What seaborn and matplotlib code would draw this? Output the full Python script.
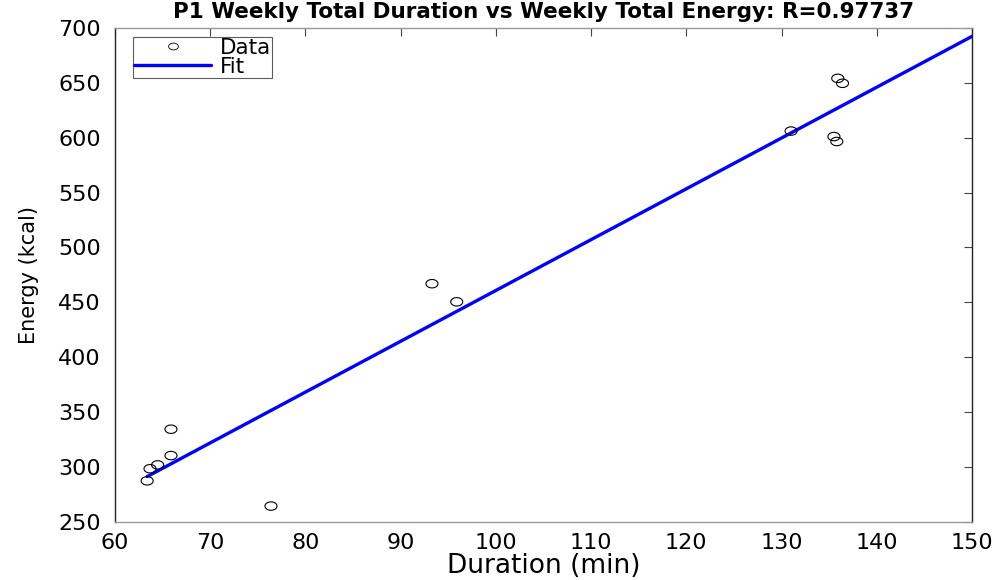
import numpy as np
import pandas as pd
import matplotlib
matplotlib.use("Agg")
import matplotlib.pyplot as plt
from matplotlib.lines import Line2D
import seaborn as sns

duration = [63.4, 63.7, 64.5, 65.9, 65.9, 76.4, 93.3, 95.9, 131.0, 135.5, 135.8, 135.9, 136.4]
energy = [287.5, 298.5, 302.0, 310.5, 334.5, 264.5, 467.0, 450.5, 606.0, 601.0, 596.5, 654.0, 649.5]
x_ticks = [60, 70, 80, 90, 100, 110, 120, 130, 140, 150]
y_ticks = [250, 300, 350, 400, 450, 500, 550, 600, 650, 700]
title = "P1 Weekly Total Duration vs Weekly Total Energy: R=0.97737"

sns.set_style("white")
plt.rcParams['font.family'] = ['DejaVu Sans']
plt.rcParams['text.color'] = 'black'
plt.rcParams['axes.labelcolor'] = 'black'

df = pd.DataFrame({"Duration": duration, "Energy": energy})
slope, intercept = np.polyfit(df["Duration"], df["Energy"], 1)
fit_x = np.array([min(duration), 150])
fit_df = pd.DataFrame({"x": fit_x, "y": slope * fit_x + intercept})

# horizontally stretched open circle marker
t = np.linspace(0, 2 * np.pi, 60)
ell = np.column_stack([1.0 * np.cos(t), 0.7 * np.sin(t)])

fig = plt.figure(figsize=(9.98, 5.8), dpi=100)
ax = fig.add_axes([0.115, 0.10, 0.859, 0.852])

sns.scatterplot(data=df, x="Duration", y="Energy", ax=ax, marker=ell,
                facecolor="none", edgecolor="black", s=75, linewidth=0.8,
                zorder=3, legend=False)
sns.lineplot(data=fit_df, x="x", y="y", ax=ax, color="#0000ff", linewidth=2.4,
             zorder=2, legend=False)

ax.set_xlim(60, 150)
ax.set_ylim(250, 700)
ax.set_xticks(x_ticks)
ax.set_yticks(y_ticks)
ax.tick_params(direction="in", length=6, width=0.8, labelsize=16, top=True, right=True,
               colors="#444444", labelcolor="black")
ax.tick_params(axis="y", pad=10)
ax.tick_params(axis="x", pad=8)
for side in ["left", "right"]:
    ax.spines[side].set_color("#222222")
for side in ["top", "bottom"]:
    ax.spines[side].set_color("#999999")
for s in ax.spines.values():
    s.set_linewidth(1.0)
ax.set_xlabel("Duration (min)", fontsize=19, labelpad=0, color="black")
ax.set_ylabel("Energy (kcal)", fontsize=15, labelpad=14, color="black")
ax.set_title(title, fontsize=15.5, fontweight="bold", pad=7, color="black")

handles = [Line2D([], [], linestyle="none", marker=ell, markersize=7,
                  markerfacecolor="none", markeredgecolor="black", markeredgewidth=0.6),
           Line2D([], [], color="#0000ff", linewidth=2.4)]
leg = ax.legend(handles, ["Data", "Fit"], loc="upper left", bbox_to_anchor=(0.021, 0.982),
                fontsize=15.5, frameon=True, fancybox=False, edgecolor="#333333",
                handlelength=3.6, handletextpad=0.4, borderpad=0.05, labelspacing=-0.05,
                borderaxespad=0.0)
leg.get_frame().set_linewidth(0.8)
for txt in leg.get_texts():
    txt.set_color("black")

fig.savefig("out.png", dpi=100)
